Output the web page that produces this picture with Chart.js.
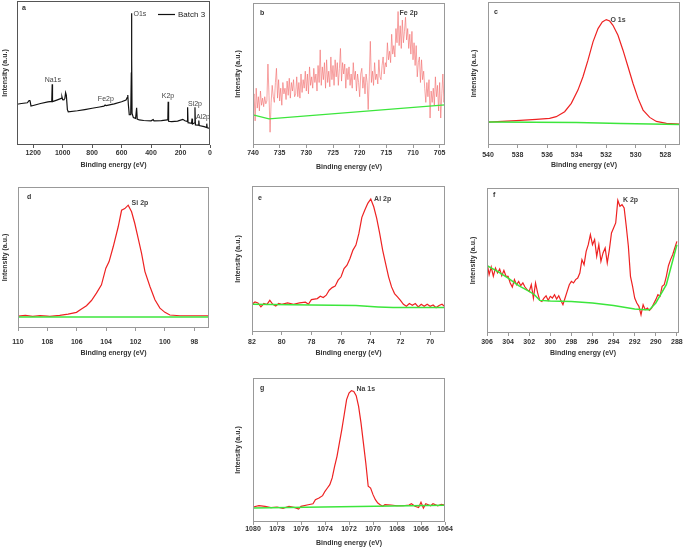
<!DOCTYPE html>
<html><head><meta charset="utf-8">
<script src="https://cdn.jsdelivr.net/npm/chart.js@4.4.1/dist/chart.umd.min.js"></script>
<style>
html,body{margin:0;padding:0;background:#fff;}
body{width:685px;height:548px;position:relative;overflow:hidden;}
canvas{position:absolute;}
</style>
</head><body>
<canvas id="pa"></canvas><canvas id="pb"></canvas><canvas id="pc"></canvas>
<canvas id="pd"></canvas><canvas id="pe"></canvas><canvas id="pf"></canvas><canvas id="pg"></canvas>
<script>
// ---------- DATA ----------
// (a) survey spectrum, Batch 3
const aBE = [1310,1280,1240,1228,1222,1215,1200,1150,1100,1074,1071,1069,1040,1010,1005,1000,992,985,980,975,968,962,900,850,800,750,720,712,705,650,600,570,562,558,554,548,538,534,532.5,531,529,520,505,498,494,480,450,400,386,380,330,290,286,284,281,260,220,185,170,155,152,149,125,122,119,104,102,99,80,76,73,40,25,22,19,0];
const aInt = [28.3,28.8,29.3,30.8,31.0,27.0,27.4,28.8,30.0,30.3,42.2,30.1,31.2,32.4,33.5,31.5,31.3,32.5,36.3,34.5,24.5,23.1,23.8,24.6,25.5,26.4,27.0,27.8,27.3,28.6,30.0,31.3,33.0,34.7,28.0,21.0,21.0,50,91.5,60,22,19.0,18.5,25.9,18.0,17.4,17.0,16.8,17.6,16.7,16.9,17.5,18.5,30.1,16.5,16.2,16.6,17.8,16.8,16.4,26.2,15.5,15.0,18.3,14.6,15.4,26.2,14.0,13.8,17.0,13.5,12.8,12.2,14.8,12.0,11.6];
const aTicks = [1200,1000,800,600,400,200,0];
const aLabels = ["Na1s","Fe2p","O1s","K2p","Si2p","Al2p"];
const aLabelBE = [1067,707,476,285,102,48];
const aLabelI = [45.1,31.9,91,34,28.5,19.4];
const aSeriesName = "Batch 3";

// (b) Fe 2p
const bBE = [740.0,739.8,739.6,739.4,739.2,739.0,738.8,738.6,738.4,738.2,
 738.0,737.8,737.6,737.4,737.2,737.0,736.8,736.6,736.4,736.2,
 736.0,735.8,735.6,735.4,735.2,735.0,734.8,734.6,734.4,734.2,
 734.0,733.8,733.6,733.4,733.2,733.0,732.8,732.6,732.4,732.2,
 732.0,731.8,731.6,731.4,731.2,731.0,730.8,730.6,730.4,730.2,
 730.0,729.8,729.6,729.4,729.2,729.0,728.8,728.6,728.4,728.2,
 728.0,727.8,727.6,727.4,727.2,727.0,726.8,726.6,726.4,726.2,
 726.0,725.8,725.6,725.4,725.2,725.0,724.8,724.6,724.4,724.2,
 724.0,723.8,723.6,723.4,723.2,723.0,722.8,722.6,722.4,722.2,
 722.0,721.8,721.6,721.4,721.2,721.0,720.8,720.6,720.4,720.2,
 720.0,719.8,719.6,719.4,719.2,719.0,718.8,718.6,718.4,718.2,
 718.0,717.8,717.6,717.4,717.2,717.0,716.8,716.6,716.4,716.2,
 716.0,715.8,715.6,715.4,715.2,715.0,714.8,714.6,714.4,714.2,
 714.0,713.8,713.6,713.4,713.2,713.0,712.8,712.6,712.4,712.2,
 712.0,711.8,711.6,711.4,711.2,711.0,710.8,710.6,710.4,710.2,
 710.0,709.8,709.6,709.4,709.2,709.0,708.8,708.6,708.4,708.2,
 708.0,707.8,707.6,707.4,707.2,707.0,706.8,706.6,706.4,706.2,
 706.0,705.8,705.6,705.4,705.2,705.0,704.8,704.6,704.4,704.2,
 704.0];
const bInt = [30,36,17,40,26,34,24,38,28,33,
 27,34,29,31,57,35,9,30,42,34,
 30,44,54,33,46,31,40,28,44,36,
 40,32,45,35,47,33,44,38,46,34,
 36,48,34,44,33,50,37,46,40,52,
 38,50,36,55,42,48,40,54,44,50,
 38,56,44,67,42,55,46,58,40,60,
 44,52,41,62,46,56,42,60,48,58,
 42,54,68,45,58,50,57,40,54,46,
 55,42,50,40,58,46,52,38,50,44,
 34,50,54,40,48,36,50,44,25,48,
 73,44,52,42,58,46,50,43,60,48,
 46,56,62,50,58,55,72,60,66,58,
 78,64,70,62,82,72,94,70,84,68,
 88,72,80,90,74,82,68,78,64,80,
 60,72,56,70,48,58,62,44,60,46,
 52,40,30,44,34,46,19,38,30,40,
 28,48,34,42,24,44,19,36,50,30,
 38];
const bBaseBE = [740,737,704];
const bBaseInt = [21.2,18.4,28.2];
const bTicks = [740,735,730,725,720,715,710,705];

// (c) O 1s
const cBE = [540,538.09,536.73,535.83,535.38,534.81,534.36,533.91,533.57,533.23,532.89,532.55,532.26,531.99,531.76,531.54,531.20,530.86,530.52,530.18,529.84,529.50,529.05,528.60,527.92,527.02];
const cInt = [16.0,17.0,17.9,18.6,19.8,23.3,29.1,38.4,47.7,59.3,72.1,81.4,86.0,87.7,86.7,83.7,76.7,66.3,54.7,43.0,32.6,24.4,19.3,16.5,15.1,14.7];
const cBaseBE = [540,534,531,529,527];
const cBaseInt = [16.0,15.8,15.0,14.6,14.4];
const cTicks = [540,538,536,534,532,530,528];

// (d) Si 2p
const dBE = [110,109.5,109,108.5,108,107.84,107.16,106.59,106.02,105.68,105.34,105.0,104.66,104.32,104.02,103.80,103.52,103.18,102.95,102.73,102.50,102.27,102.05,101.82,101.59,101.36,101.02,100.68,100.34,100.0,99.66,98.98,98.07,96.98];
const dInt = [8.4,8.9,8.3,8.8,8.4,8.2,8.9,9.9,11.1,13.4,15.8,19.5,24.7,30.6,42.4,47.1,57.6,71.8,83.5,84.7,87.1,82.4,74.1,63.5,52.9,40.0,29.4,20.0,14.1,11.1,9.2,8.7,8.7,8.7];
const dBaseBE = [110,97];
const dBaseInt = [7.8,7.8];
const dTicks = [110,108,106,104,102,100,98];

// (e) Al 2p
const eBE = [82.0,81.8,81.6,81.4,81.2,81.0,80.8,80.6,80.4,80.2,80.0,79.6,79.2,78.8,78.4,78.2,78.0,77.6,77.4,77.2,77.0,76.8,76.6,76.4,76.2,76.0,75.8,75.6,75.4,75.2,75.0,74.8,74.6,74.4,74.2,74.0,73.8,73.6,73.4,73.2,73.0,72.8,72.6,72.4,72.2,72.0,71.8,71.6,71.4,71.2,71.0,70.8,70.6,70.4,70.2,70.0,69.8,69.6,69.4,69.2,69.0];
const eInt = [19.0,20.6,19.9,17.2,19.5,18.8,21.7,19.0,17.8,19.5,19.0,19.9,19.0,19.9,20.4,19.0,22.2,22.9,24.5,23.6,25.2,28.6,30.4,31.4,35.5,37.8,43.5,45.8,50.3,56.1,59.5,67.5,78.5,83.5,88.1,91.1,85.8,77.8,67.5,56.1,46.9,37.8,30.9,26.3,24.0,21.7,19.0,17.6,19.5,18.3,19.5,17.2,19.0,17.6,19.0,17.6,18.5,16.7,18.1,19.0,17.2];
const eBaseBE = [82,78,75,73.5,72.5,69];
const eBaseInt = [19.0,18.5,18.1,17.2,16.7,16.7];
const eTicks = [82,80,78,76,74,72,70];

// (f) K 2p
const fBE = [306.0,305.8,305.6,305.4,305.2,305.0,304.8,304.6,304.4,304.2,
 304.0,303.8,303.6,303.4,303.2,303.0,302.8,302.6,302.4,302.2,
 302.0,301.8,301.6,301.4,301.2,301.0,300.8,300.6,300.4,300.2,
 300.0,299.8,299.6,299.4,299.2,299.0,298.8,298.6,298.4,298.2,
 298.0,297.8,297.6,297.4,297.2,297.0,296.8,296.6,296.4,296.2,
 296.0,295.8,295.6,295.4,295.2,295.0,294.8,294.6,294.4,294.2,
 294.0,293.8,293.6,293.4,293.2,293.0,292.8,292.6,292.4,292.2,
 292.0,291.8,291.6,291.4,291.2,291.0,290.8,290.6,290.4,290.2,
 290.0,289.8,289.6,289.4,289.2,289.0,288.8,288.6,288.4,288.2,
 288.0];
const fInt = [48.7,40.2,45.5,39.1,44.8,41.4,44.1,39.5,43.2,39.1,
 39.1,34.5,31.7,36.8,33.3,35.6,32.6,34.5,31.7,29.9,
 28.7,33.3,24.1,34.5,27.6,22.5,21.8,24.1,25.7,22.5,
 25.3,24.1,26.4,23.4,25.7,22.5,19.5,24.1,28.7,33.3,
 35.6,34.5,36.8,37.9,41.4,50.6,47.1,56.3,60.9,67.8,
 60.9,64.4,52.9,60.9,49.4,55.2,58.6,48.3,57.5,69.0,
 72.4,75.9,91.5,87.4,88.5,86.2,73.6,59.8,39.1,32.2,
 24.1,20.7,18.4,12.6,19.5,16.1,17.2,15.6,17.2,20.2,
 23.0,26.4,25.3,32.2,33.3,39.1,46.4,50.6,54.0,58.6,
 63.2];
const fBaseBE = [306,305,304,303,302,301.5,301,300,298,296,294,292,291,290.6,290,289,288];
const fBaseInt = [46.4,42.5,37.9,32.6,28.7,26.4,22.5,22.1,21.8,20.7,18.9,16.6,16.1,16.1,20.7,33.3,60.9];
const fTicks = [306,304,302,300,298,296,294,292,290,288];

// (g) Na 1s
const gBE = [1080,1079.5,1079,1078.5,1078,1077.5,1077,1076.5,1076.2,1076,
 1075.5,1075,1074.8,1074.5,1074.2,1074,1073.8,1073.6,1073.4,1073.2,
 1073,1072.8,1072.6,1072.4,1072.2,1072,1071.8,1071.6,1071.4,1071.2,
 1071,1070.8,1070.6,1070.4,1070.2,1070,1069.8,1069.6,1069.4,1069.2,
 1069,1068.5,1068,1067.5,1067,1066.8,1066.5,1066.2,1066,1065.8,
 1065.6,1065.2,1065,1064.6,1064.3,1064];
const gInt = [10.4,11.3,10.9,10.0,10.4,9.5,10.9,10.0,9.0,10.9,
 11.8,12.7,15.5,16.7,18.3,21.3,23.6,25.9,30.6,38.7,
 45.6,54.9,64.1,74.5,85.0,89.6,91.2,90.7,87.7,80.3,
 68.8,54.9,41.0,24.8,23.6,19.0,15.5,13.2,12.0,10.9,
 12.0,11.8,11.3,11.3,11.8,12.7,10.9,10.0,13.7,9.7,
 12.7,11.3,12.7,11.3,12.3,11.8];
const gBaseBE = [1080,1064];
const gBaseInt = [9.7,11.6];
const gTicks = [1080,1078,1076,1074,1072,1070,1068,1066,1064];

// ---------- DRAWING ----------
const FAM = "'Liberation Sans', Arial, Helvetica, sans-serif";
Chart.defaults.font.family = FAM;
Chart.defaults.color = '#333';

const RED = '#ee2222', GREEN = '#3ce63c';

const deco = {
  id: 'deco',
  afterDatasetsDraw(chart, args, o) {
    const {ctx, chartArea: ca, scales} = chart;
    const x = scales.x, y = scales.y;
    ctx.save();
    ctx.strokeStyle = o.frame; ctx.lineWidth = 1;
    ctx.strokeRect(Math.round(ca.left) + 0.5, Math.round(ca.top) + 0.5,
                   Math.round(ca.right - ca.left) - 1, Math.round(ca.bottom - ca.top) - 1);
    ctx.fillStyle = '#333';
    ctx.textBaseline = 'middle';
    ctx.textAlign = 'left';
    ctx.font = 'bold 7px ' + FAM;
    ctx.fillText(o.letter, ca.left + o.ldx, ca.top + o.ldy);
    ctx.font = o.lfont + ' ' + FAM;
    ctx.fillStyle = '#444';
    ctx.textAlign = 'center';
    o.texts.forEach((t, i) => ctx.fillText(t, x.getPixelForValue(o.tBE[i]), y.getPixelForValue(o.tI[i])));
    if (o.legend) {
      const ds = chart.data.datasets[0];
      const ly = Math.round(ca.top + 13) + 0.5;
      ctx.strokeStyle = ds.borderColor; ctx.lineWidth = 1.2;
      ctx.beginPath(); ctx.moveTo(ca.right - 52, ly); ctx.lineTo(ca.right - 35, ly); ctx.stroke();
      ctx.fillStyle = '#222'; ctx.textAlign = 'left';
      ctx.font = '8px ' + FAM;
      ctx.fillText(ds.label, ca.right - 32, ly);
    }
    ctx.restore();
  }
};

function series(xs, ys, color, w, label) {
  return { label: label || '', data: xs.map((v, i) => ({x: v, y: ys[i]})),
           borderColor: color, backgroundColor: color, borderWidth: w,
           pointRadius: 0, tension: 0, fill: false };
}

function build(p) {
  const fsT = 7, lhT = fsT * 1.2;
  const fsK = 7, lhK = fsK * 1.2;
  const tl = 3, pt = 6, pr = 16;
  const cl = Math.round(p.yTitleX - lhT / 2);
  const yw = p.l - cl;
  const ct = p.t - pt;
  const xh = p.titleY - p.b + lhT / 2;
  const cv = document.getElementById(p.id);
  cv.width = p.r - cl + pr;
  cv.height = Math.round(p.b - ct + xh);
  const xh2 = cv.height - (p.b - ct);
  cv.style.left = cl + 'px'; cv.style.top = ct + 'px';
  const tickPad = Math.max(0, p.tickY - p.b - tl - lhK / 2);
  new Chart(cv, {
    type: 'line',
    data: { datasets: p.datasets },
    options: {
      responsive: false, devicePixelRatio: 1, animation: false, events: [],
      layout: { padding: { top: pt, right: pr, left: 0, bottom: 0 } },
      scales: {
        x: { type: 'linear', reverse: true, min: p.min, max: p.max,
             afterBuildTicks: s => { s.ticks = p.ticks.map(v => ({value: v})); },
             afterFit: s => { s.height = xh2; },
             ticks: { autoSkip: false, maxRotation: 0, minRotation: 0, padding: tickPad, color: '#333',
                      font: { size: fsK, weight: 'bold' }, callback: v => String(v) },
             grid: { drawOnChartArea: false, drawTicks: true, tickLength: tl, color: p.frame },
             border: { display: false },
             title: { display: true, text: 'Binding energy (eV)', color: '#333',
                      font: { size: fsT, weight: 'bold' }, padding: 0 } },
        y: { type: 'linear', min: 0, max: 100,
             afterFit: s => { s.width = yw; },
             ticks: { display: false }, grid: { display: false }, border: { display: false },
             title: { display: true, text: 'Intensity (a.u.)', color: '#333',
                      font: { size: fsT, weight: 'bold' }, padding: 0 } }
      },
      plugins: {
        legend: { display: false },
        tooltip: { enabled: false },
        deco: { frame: p.frame, letter: p.letter, ldx: p.ldx, ldy: p.ldy, legend: !!p.legend,
                texts: p.texts, tBE: p.tBE, tI: p.tI, lfont: p.lfont }
      }
    },
    plugins: [deco]
  });
}

build({ id: 'pa', l: 17, t: 1, r: 210, b: 145, tickY: 153, titleY: 165, yTitleX: 5,
  min: 0, max: 1310, ticks: aTicks, frame: '#555', letter: 'a', ldx: 5, ldy: 7, legend: true,
  texts: aLabels, tBE: aLabelBE, tI: aLabelI, lfont: '7px',
  datasets: [series(aBE, aInt, '#111', 1.2, aSeriesName)] });

build({ id: 'pb', l: 253, t: 3, r: 445, b: 145, tickY: 153.5, titleY: 166.5, yTitleX: 238.5,
  min: 704, max: 740, ticks: bTicks, frame: '#999', letter: 'b', ldx: 7, ldy: 10,
  texts: ['Fe 2p'], tBE: [710.8], tI: [93], lfont: 'bold 7px',
  datasets: [series(bBaseBE, bBaseInt, GREEN, 1.2), series(bBE, bInt, 'rgba(242,110,110,0.8)', 0.8)] });

build({ id: 'pc', l: 488, t: 2, r: 680, b: 145, tickY: 155, titleY: 165, yTitleX: 474,
  min: 527, max: 540, ticks: cTicks, frame: '#999', letter: 'c', ldx: 6, ldy: 10,
  texts: ['O 1s'], tBE: [531.2], tI: [87.4], lfont: 'bold 7px',
  datasets: [series(cBaseBE, cBaseInt, GREEN, 1.5), series(cBE, cInt, RED, 1.2)] });

build({ id: 'pd', l: 18, t: 187, r: 209, b: 328, tickY: 342, titleY: 353, yTitleX: 5,
  min: 97, max: 110, ticks: dTicks, frame: '#999', letter: 'd', ldx: 9, ldy: 10,
  texts: ['Si 2p'], tBE: [101.7], tI: [88.7], lfont: 'bold 7px',
  datasets: [series(dBaseBE, dBaseInt, GREEN, 1.5), series(dBE, dInt, RED, 1.2)] });

build({ id: 'pe', l: 252, t: 186, r: 445, b: 332, tickY: 342, titleY: 353, yTitleX: 238,
  min: 69, max: 82, ticks: eTicks, frame: '#999', letter: 'e', ldx: 6, ldy: 12,
  texts: ['Al 2p'], tBE: [73.2], tI: [91.1], lfont: 'bold 7px',
  datasets: [series(eBaseBE, eBaseInt, GREEN, 1.5), series(eBE, eInt, RED, 1.2)] });

build({ id: 'pf', l: 487, t: 188, r: 679, b: 333, tickY: 342, titleY: 353, yTitleX: 473,
  min: 287.8, max: 306, ticks: fTicks, frame: '#999', letter: 'f', ldx: 6, ldy: 7,
  texts: ['K 2p'], tBE: [292.4], tI: [91.9], lfont: 'bold 7px',
  datasets: [series(fBaseBE, fBaseInt, GREEN, 1.5), series(fBE, fInt, RED, 1.2)] });

build({ id: 'pg', l: 253, t: 378, r: 445, b: 522, tickY: 529, titleY: 543, yTitleX: 238,
  min: 1064, max: 1080, ticks: gTicks, frame: '#999', letter: 'g', ldx: 7, ldy: 10,
  texts: ['Na 1s'], tBE: [1070.6], tI: [92.6], lfont: 'bold 7px',
  datasets: [series(gBaseBE, gBaseInt, GREEN, 1.5), series(gBE, gInt, RED, 1.2)] });
</script>
</body></html>
